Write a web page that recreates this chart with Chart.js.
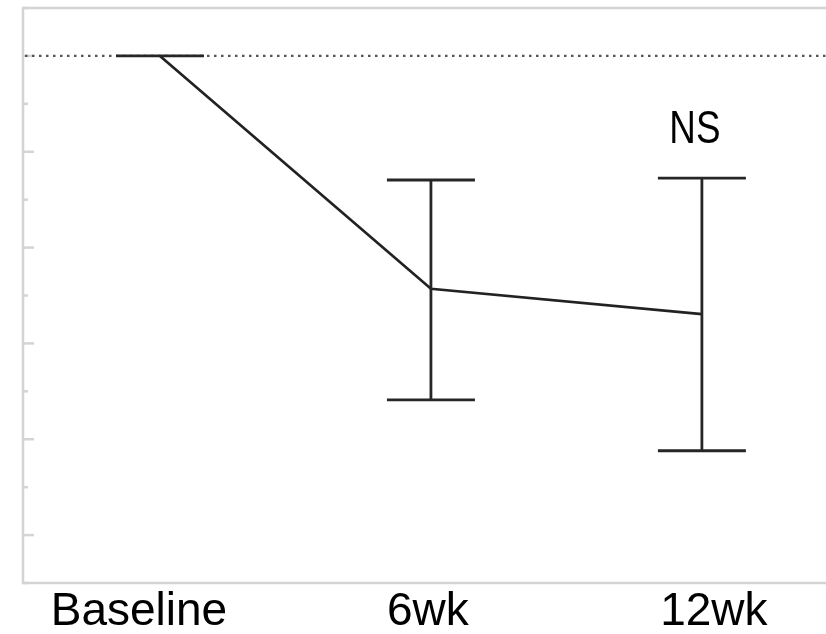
<!DOCTYPE html>
<html>
<head>
<meta charset="utf-8">
<script src="https://cdn.jsdelivr.net/npm/chart.js@4.4.0/dist/chart.umd.min.js"></script>
<style>
  body { margin: 0; background: #fff; }
  #wrap { width: 826px; height: 634px; position: relative; }
</style>
</head>
<body>
<div id="wrap"><canvas id="chart"></canvas></div>
<script>
// values (0 = baseline level, dotted line)
var labels = ['Baseline', '6wk', '12wk'];
var meanVals = [0, -4.86, -5.39];
var upperVals = [0, -2.59, -2.55];
var lowerVals = [0, -7.18, -8.24];
var note = 'NS';          // annotation over the 12wk point
var noteIndex = 2;

// small pixel nudges so the labels sit like in the figure
var labelShift = [-21, -3, 12];
var textFont = '46px "Liberation Sans", Arial, sans-serif';

var framePlugin = {
  id: 'frame',
  beforeDatasetsDraw: function (chart) {
    var ctx = chart.ctx;
    var a = chart.chartArea;
    var ys = chart.scales.y;
    ctx.save();
    ctx.strokeStyle = '#d4d4d4';
    ctx.lineWidth = 2.5;
    ctx.beginPath();
    ctx.moveTo(a.right, a.top);
    ctx.lineTo(a.left, a.top);
    ctx.lineTo(a.left, a.bottom);
    ctx.lineTo(a.right, a.bottom);
    ctx.stroke();
    // inward tick marks, long on even steps
    ys.ticks.forEach(function (t) {
      var y = ys.getPixelForValue(t.value);
      var len = (Math.round(t.value) % 2 === 0) ? 11 : 5;
      ctx.beginPath();
      ctx.moveTo(a.left, y);
      ctx.lineTo(a.left + len, y);
      ctx.stroke();
    });
    // dotted reference line at baseline level
    var y0 = ys.getPixelForValue(0);
    ctx.strokeStyle = '#555';
    ctx.lineWidth = 2.3;
    ctx.setLineDash([2.5, 4.5]);
    ctx.beginPath();
    ctx.moveTo(a.left + 2, y0);
    ctx.lineTo(a.right, y0);
    ctx.stroke();
    ctx.restore();
  }
};

var errorBarPlugin = {
  id: 'errorBars',
  afterDatasetsDraw: function (chart) {
    var ctx = chart.ctx;
    var xs = chart.scales.x;
    var ys = chart.scales.y;
    ctx.save();
    ctx.strokeStyle = '#262626';
    ctx.lineWidth = 2.8;
    for (var i = 0; i < meanVals.length; i++) {
      var x = xs.getPixelForValue(i);
      var yHi = ys.getPixelForValue(upperVals[i]);
      var yLo = ys.getPixelForValue(lowerVals[i]);
      ctx.beginPath();
      ctx.moveTo(x, yHi);
      ctx.lineTo(x, yLo);
      ctx.moveTo(x - 44, yHi);
      ctx.lineTo(x + 44, yHi);
      ctx.moveTo(x - 44, yLo);
      ctx.lineTo(x + 44, yLo);
      ctx.stroke();
    }
    ctx.restore();
  },
  afterDraw: function (chart) {
    var ctx = chart.ctx;
    var xs = chart.scales.x;
    var ys = chart.scales.y;
    ctx.save();
    ctx.fillStyle = '#000';
    ctx.font = textFont;
    ctx.textAlign = 'center';
    ctx.textBaseline = 'alphabetic';
    labels.forEach(function (lab, i) {
      ctx.fillText(lab, xs.getPixelForValue(i) + labelShift[i], 625);
    });
    // NS is set in a condensed face in the figure
    ctx.translate(xs.getPixelForValue(noteIndex) - 7, ys.getPixelForValue(upperVals[noteIndex]) - 35);
    ctx.scale(0.8, 1);
    ctx.fillText(note, 0, 0);
    ctx.restore();
  }
};

var ctx = document.getElementById('chart').getContext('2d');
var chart = new Chart(ctx, {
  type: 'line',
  data: {
    datasets: [{
      data: meanVals.map(function (v, i) { return { x: i, y: v }; }),
      borderColor: '#222',
      borderWidth: 2.7,
      pointRadius: 0,
      tension: 0,
      fill: false
    }]
  },
  options: {
    responsive: true,
    maintainAspectRatio: false,
    animation: false,
    layout: { padding: { left: 23, top: 8, right: 0, bottom: 51 } },
    plugins: { legend: { display: false }, tooltip: { enabled: false } },
    scales: {
      x: { type: 'linear', min: -0.5055, max: 2.458, display: false },
      y: { min: -11, max: 1, ticks: { stepSize: 1 }, display: false }
    }
  },
  plugins: [framePlugin, errorBarPlugin]
});
</script>
</body>
</html>
